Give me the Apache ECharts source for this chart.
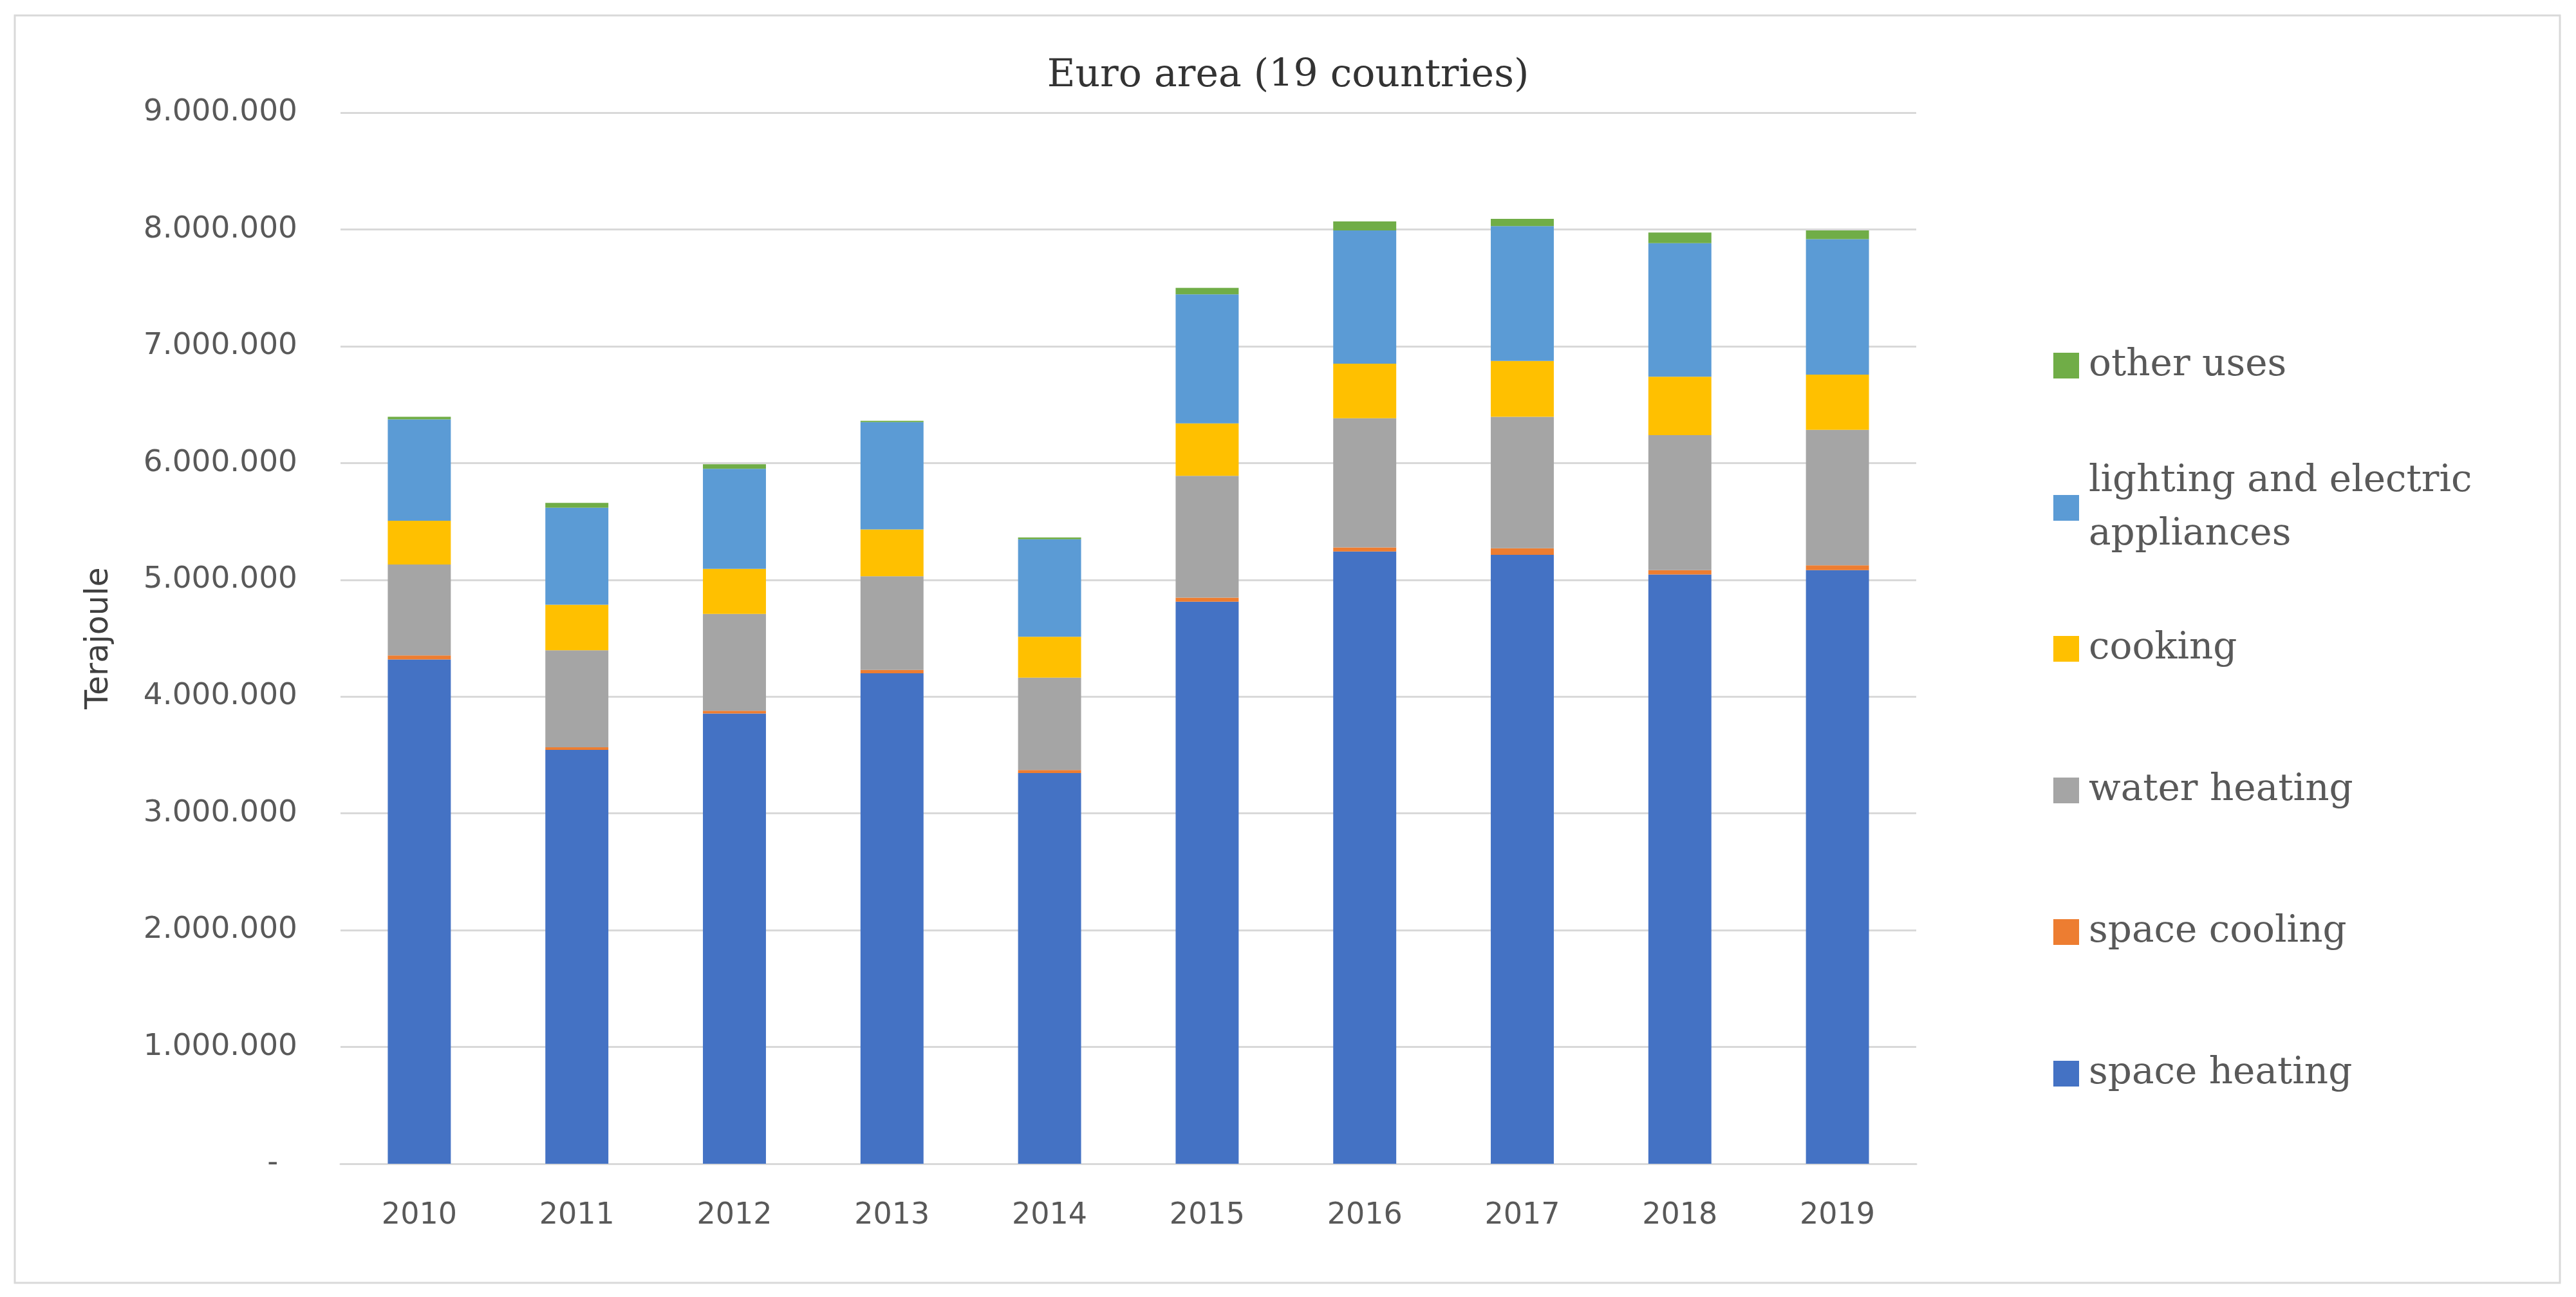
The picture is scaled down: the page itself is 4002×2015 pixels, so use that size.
<!DOCTYPE html>
<html>
<head>
<meta charset="utf-8">
<script src="https://cdn.jsdelivr.net/npm/echarts@6/dist/echarts.min.js"></script>
<style>
  html, body { margin: 0; padding: 0; background: #fff; }
  #chart { width: 4002px; height: 2015px; }
</style>
</head>
<body>
<div id="chart"></div>
<script>
// years on the x axis
var years = ['2010', '2011', '2012', '2013', '2014', '2015', '2016', '2017', '2018', '2019'];

// final energy use by purpose, terajoule
var spaceHeating = [4318000, 3544000, 3855000, 4200000, 3345000, 4813000, 5243000, 5214000, 5045000, 5083000];
var spaceCooling = [34000, 22000, 23000, 29000, 27000, 34000, 34000, 56000, 38000, 41000];
var waterHeating = [779000, 830000, 830000, 802000, 791000, 1043000, 1106000, 1126000, 1156000, 1160000];
var cooking = [375000, 390000, 386000, 401000, 349000, 450000, 468000, 478000, 500000, 473000];
var lighting = [868000, 831000, 857000, 918000, 835000, 1104000, 1140000, 1155000, 1144000, 1160000];
var otherUses = [22000, 42000, 38000, 11000, 16000, 56000, 77000, 61000, 90000, 74000];

var seriesNames = ['space heating', 'space cooling', 'water heating', 'cooking',
	'lighting and electric appliances', 'other uses'];
var seriesData = [spaceHeating, spaceCooling, waterHeating, cooking, lighting, otherUses];
var seriesColors = ['#4472C4', '#ED7D31', '#A5A5A5', '#FFC000', '#5B9BD5', '#70AD47'];

// y axis ticks
var yMin = 0;
var yMax = 9000000;
var yStep = 1000000;

// 9000000 -> 9.000.000, zero shown as a dash like Excel accounting format
function fmtTick(v) {
	if (v === 0) {
		return '-  ';
	}
	return String(v).replace(/\B(?=(\d{3})+(?!\d))/g, '.');
}

var seriesArr = [];
for (var i = 0; i < seriesNames.length; i++) {
	seriesArr.push({
		name: seriesNames[i],
		type: 'bar',
		stack: 'total',
		barWidth: '40%',
		data: seriesData[i],
		itemStyle: { color: seriesColors[i] }
	});
}

// legend entries top to bottom, centre y of each marker
var legendOrder = seriesNames.slice().reverse();
var legendCentres = [568, 789, 1008, 1228, 1448, 1668];
var legendLine = 83;

var legends = [];
for (var j = 0; j < legendOrder.length; j++) {
	var twoLines = legendOrder[j] === 'lighting and electric appliances';
	legends.push({
		data: [legendOrder[j]],
		orient: 'vertical',
		left: 3190,
		top: twoLines ? legendCentres[j] - legendLine * 1.5 : legendCentres[j] - legendLine / 2,
		padding: 0,
		itemWidth: 40,
		itemHeight: 40,
		icon: 'rect',
		selectedMode: false,
		formatter: twoLines ? function (name) {
			return 'lighting and electric\nappliances';
		} : null,
		textStyle: {
			fontFamily: 'DejaVu Serif',
			fontSize: 58,
			color: '#595959',
			lineHeight: legendLine,
			padding: twoLines ? [legendLine, 0, 0, 10] : [0, 0, 0, 10]
		}
	});
}

var myChart = echarts.init(document.getElementById('chart'));
var option = {
	backgroundColor: '#ffffff',
	animation: false,
	title: {
		text: 'Euro area (19 countries)',
		left: 'center',
		top: 83,
		textStyle: {
			fontFamily: 'DejaVu Serif',
			fontSize: 60,
			fontWeight: 'normal',
			color: '#333333'
		}
	},
	graphic: [{
		type: 'rect',
		shape: { x: 23, y: 24, width: 3954, height: 1969 },
		style: { fill: 'none', stroke: '#D9D9D9', lineWidth: 3 },
		silent: true
	}],
	legend: legends,
	grid: {
		left: 529,
		right: 1025,
		top: 175,
		bottom: 207,
		containLabel: false
	},
	xAxis: [{
		type: 'category',
		data: years,
		axisLine: { lineStyle: { color: '#D9D9D9', width: 3 } },
		axisTick: { show: false },
		axisLabel: {
			margin: 58,
			fontFamily: 'DejaVu Sans',
			fontSize: 46,
			color: '#595959'
		}
	}],
	yAxis: [{
		type: 'value',
		min: yMin,
		max: yMax,
		interval: yStep,
		name: 'Terajoule',
		nameLocation: 'middle',
		nameRotate: 90,
		nameGap: 350,
		nameTextStyle: {
			fontFamily: 'DejaVu Sans',
			fontSize: 49,
			color: '#404040'
		},
		axisLine: { show: false },
		axisTick: { show: false },
		splitLine: { lineStyle: { color: '#D9D9D9', width: 3 } },
		axisLabel: {
			margin: 67,
			fontFamily: 'DejaVu Sans',
			fontSize: 47,
			color: '#595959',
			formatter: fmtTick
		}
	}],
	series: seriesArr
};
myChart.setOption(option);
</script>
</body>
</html>
